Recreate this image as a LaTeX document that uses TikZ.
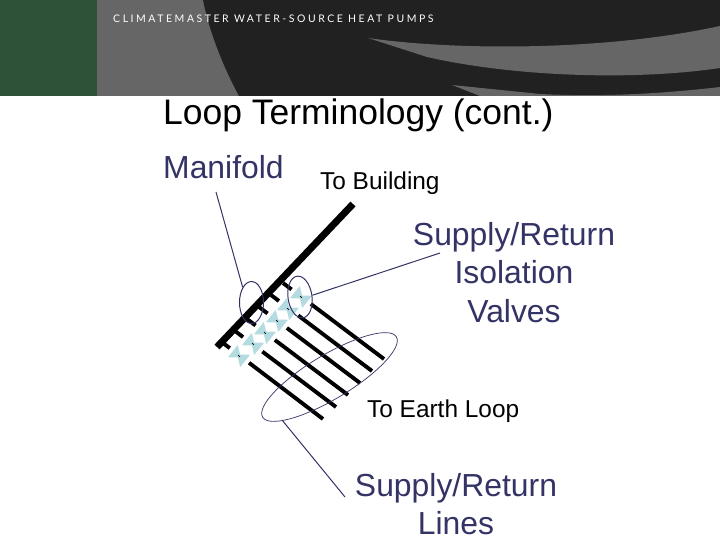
\documentclass[tikz,border=0pt]{standalone}
\usepackage{fontspec}
\setmainfont{Liberation Sans}
\newfontfamily\headfont[LetterSpace=24.5]{Lato}
\usetikzlibrary{shapes.geometric}
\definecolor{navy}{HTML}{333366}
\definecolor{valve}{HTML}{B4DCE0}
\definecolor{hgreen}{HTML}{2D5238}
\definecolor{hgray}{HTML}{666666}
\definecolor{hblack}{HTML}{212121}
\tikzset{
 navytext/.style={text=navy,font=\fontsize{32}{38.5}\selectfont,align=center,inner sep=0pt},
 blacktext/.style={text=black,font=\fontsize{24.5}{28}\selectfont,inner sep=0pt},
 pipe/.style={line width=3.9pt,black},
 leader/.style={navy,line width=1pt},
 ring/.style={draw=navy,ellipse,inner sep=0pt,line width=1pt},
 thinring/.style={draw=navy,ellipse,inner sep=0pt,line width=0.7pt},
}
\newcommand{\valvegap}[2]{%
 \fill[white,shift={(#1,#2)}] (-9.5-2.4,-7.2+3.2) -- (9.5-2.4,7.2+3.2) -- (9.5+2.4,7.2-3.2) -- (-9.5+2.4,-7.2-3.2) -- cycle;}
\newcommand{\valvetie}[2]{%
 \begin{scope}[shift={(#1,#2)}]
 \fill[valve] (-1.2,-11) -- (-11,1.2) -- (-1.1,1.5) -- (1.2,11) -- (11,-1.2) -- (1.1,-1.5) -- cycle;
 \draw[black,line width=0.7pt] (-1,-0.75) -- (1,0.75);
 \end{scope}}
\begin{document}
\begin{tikzpicture}[x=1bp,y=-1bp]
\useasboundingbox (0,0) rectangle (720,540);
\fill[white] (0,0) rectangle (720,540);
% header
\fill[hgray] (96,0) rectangle (720,96);
\fill[hgreen] (0,0) rectangle (96.5,96);
\fill[hblack] (203,0) .. controls (210,35) and (225,70) .. (239,96) -- (720,96) -- (720,0) -- cycle;
\fill[hgray] (368,38) .. controls (450,50) and (600,52) .. (720,26) -- (720,68) .. controls (640,80) and (520,78) .. (427,57) -- cycle;
\fill[hgray] (452,85) -- (480,96) -- (720,96) -- (720,87) .. controls (660,94) and (600,97) .. (540,94) -- cycle;
\node[anchor=base west,inner sep=0pt,text=white,font=\headfont\fontsize{10.5}{12}\selectfont] (brand) at (113,22.5) {CLIMATEMASTER WATER-SOURCE HEAT PUMPS};
% titles
\node[anchor=base west,inner sep=0pt,text=black,font=\fontsize{35.6}{40}\selectfont] (title) at (163,125) {Loop Terminology (cont.)};
\node[navytext,anchor=base west] (manifold) at (163,179) {Manifold};
\node[blacktext,anchor=base west] (tobuilding) at (320,190) {To Building};
\node[navytext,anchor=north] (valves) at (514,222) {Supply/Return\\Isolation\\Valves};
\node[blacktext,anchor=base west] (toearth) at (367,417) {To Earth Loop};
\node[navytext,anchor=north] (lines) at (456,473) {Supply/Return\\Lines};
% pipes
\draw[pipe] (223,343) -- (323,419);
\draw[pipe] (235,331) -- (336,407);
\draw[pipe] (247,319) -- (348,395);
\draw[pipe] (259,307) -- (360,383);
\draw[pipe] (271,295) -- (372,371);
\draw[pipe] (283,283) -- (384,359);
\draw[black,line width=7pt] (217,347) -- (353,204);
% valves
\valvegap{239}{356}
\valvegap{253}{344}
\valvegap{265}{333}
\valvegap{277}{321}
\valvegap{288}{309}
\valvegap{301}{297}
\valvetie{239}{356}
\valvetie{253}{344}
\valvetie{265}{333}
\valvetie{277}{321}
\valvetie{288}{309}
\valvetie{301}{297}
% rings
\node[ring,minimum width=24bp,minimum height=42bp] (ringleft) at (251.5,302.5) {};
\node[ring,minimum width=24bp,minimum height=42bp,rotate=8] (ringright) at (300,297) {};
\node[thinring,minimum width=156bp,minimum height=44bp,rotate=31] (ringearth) at (329.5,377) {};
% leaders
\coordinate (manend) at (216,192);
\coordinate (valvend) at (440,253);
\coordinate (lineend) at (345,497);
\draw[leader] (manend) -- (ringleft.north west);
\draw[leader] (valvend) -- (ringright.east);
\draw[leader] (lineend) -- (282,420);
\end{tikzpicture}
\end{document}
